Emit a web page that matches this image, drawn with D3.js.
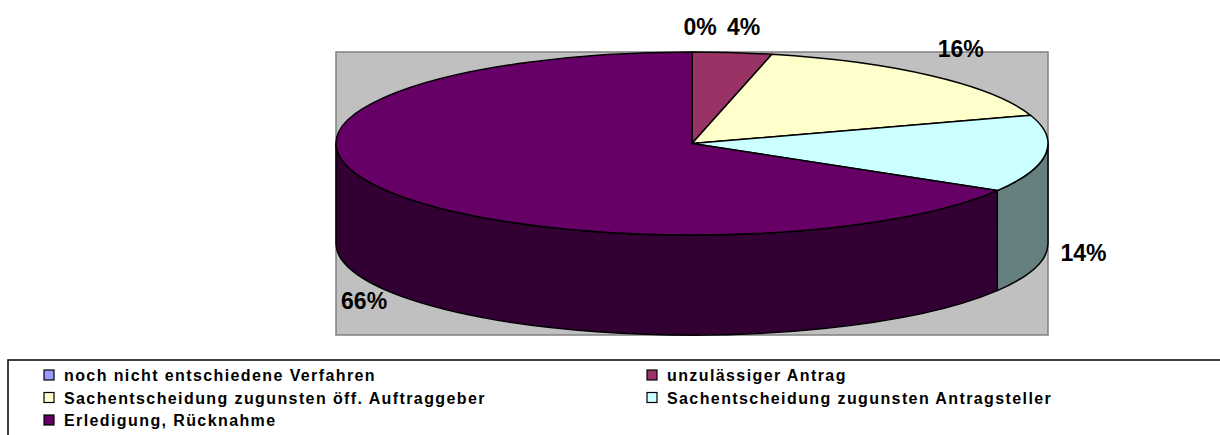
<!DOCTYPE html>
<meta charset="utf-8">
<style>
    body { margin: 0; background: #fff; }
    svg { display: block; font-family: "Liberation Sans", Arial, sans-serif; }
    .label { font-size: 23px; font-weight: bold; fill: #000; }
    .legend text { font-size: 16px; font-weight: bold; letter-spacing: 1.4px; fill: #000; }
</style>
<svg id="chart" width="1220" height="435"></svg>
<script src="https://cdn.jsdelivr.net/npm/d3@7"></script>
<script>
    // slices, clockwise from 12 o'clock
    const categories = [
        "noch nicht entschiedene Verfahren",
        "unzulässiger Antrag",
        "Sachentscheidung zugunsten öff. Auftraggeber",
        "Sachentscheidung zugunsten Antragsteller",
        "Erledigung, Rücknahme"
    ];
    const values = [0, 3.6, 16.4, 13.6, 66.4];
    const topColors = ["#9999FF", "#993366", "#FFFFCC", "#CCFFFF", "#660066"];
    const sideColors = ["#4d4d80", "#4d1a33", "#808066", "#668080", "#330033"];

    const svg = d3.select("#chart");

    // plot area
    const plot = {x: 336, y: 52, w: 712, h: 283};
    svg.append("rect")
        .attr("x", plot.x).attr("y", plot.y)
        .attr("width", plot.w).attr("height", plot.h)
        .attr("fill", "#C0C0C0")
        .attr("stroke", "#808080")
        .attr("stroke-width", 1.5);

    const cx = 692, cy = 143.5, rx = 356, ry = 91.5, depth = 100;

    const data = categories.map((c, i) => ({name: c, value: values[i], i: i}));
    const arcs = d3.pie().sort(null).value(d => d.value)(data);

    const pt = (a, dy) => [cx + rx * Math.sin(a), cy - ry * Math.cos(a) + (dy || 0)];

    // outer walls (front half only)
    const walls = svg.append("g");
    arcs.forEach(a => {
        const a0 = Math.max(a.startAngle, Math.PI / 2);
        const a1 = Math.min(a.endAngle, Math.PI * 1.5);
        if (a1 <= a0) return;
        const t0 = pt(a0), t1 = pt(a1), b1 = pt(a1, depth), b0 = pt(a0, depth);
        const d = `M${t0}A${rx},${ry} 0 0 1 ${t1}L${b1}A${rx},${ry} 0 0 0 ${b0}Z`;
        walls.append("path")
            .attr("d", d)
            .attr("fill", sideColors[a.data.i])
            .attr("stroke", "#000")
            .attr("stroke-width", 1.5)
            .attr("stroke-linejoin", "round");
    });

    // top faces
    const arc = d3.arc().innerRadius(0).outerRadius(rx);
    svg.append("g")
        .attr("transform", `translate(${cx},${cy}) scale(1,${ry / rx})`)
        .selectAll("path")
        .data(arcs.filter(a => a.endAngle > a.startAngle))
        .join("path")
        .attr("d", arc)
        .attr("fill", d => topColors[d.data.i])
        .attr("stroke", "#000")
        .attr("stroke-width", 1.5)
        .attr("stroke-linejoin", "round")
        .attr("vector-effect", "non-scaling-stroke");

    // percentage labels, placed outside the rim
    const pct = d3.format(".0%");
    svg.append("g")
        .selectAll("text")
        .data(arcs)
        .join("text")
        .attr("class", "label")
        .attr("text-anchor", "middle")
        .attr("dominant-baseline", "central")
        .attr("x", d => {
            const m = (d.startAngle + d.endAngle) / 2;
            return cx + 8 + 386 * Math.sin(m);
        })
        .attr("y", d => {
            const c = Math.cos((d.startAngle + d.endAngle) / 2);
            return c >= 0 ? cy - 31 - 86 * c : cy + depth - 4 - 124 * c;
        })
        .text(d => pct(d.data.value / 100));

    // legend
    const legend = svg.append("g").attr("class", "legend");
    legend.append("rect")
        .attr("x", 8).attr("y", 360)
        .attr("width", 1230).attr("height", 100)
        .attr("fill", "#fff")
        .attr("stroke", "#000")
        .attr("stroke-width", 1.5);

    const colX = [44, 647], rowY = [375, 397.5, 420];
    const items = legend.selectAll("g.item")
        .data(data)
        .join("g")
        .attr("class", "item")
        .attr("transform", (d, i) => `translate(${colX[i % 2]},${rowY[Math.floor(i / 2)]})`);
    items.append("rect")
        .attr("x", 0).attr("y", -5)
        .attr("width", 10).attr("height", 10)
        .attr("fill", d => topColors[d.i])
        .attr("stroke", "#000")
        .attr("stroke-width", 1.2);
    items.append("text")
        .attr("x", 20)
        .attr("y", 6)
        .text(d => d.name);
</script>
